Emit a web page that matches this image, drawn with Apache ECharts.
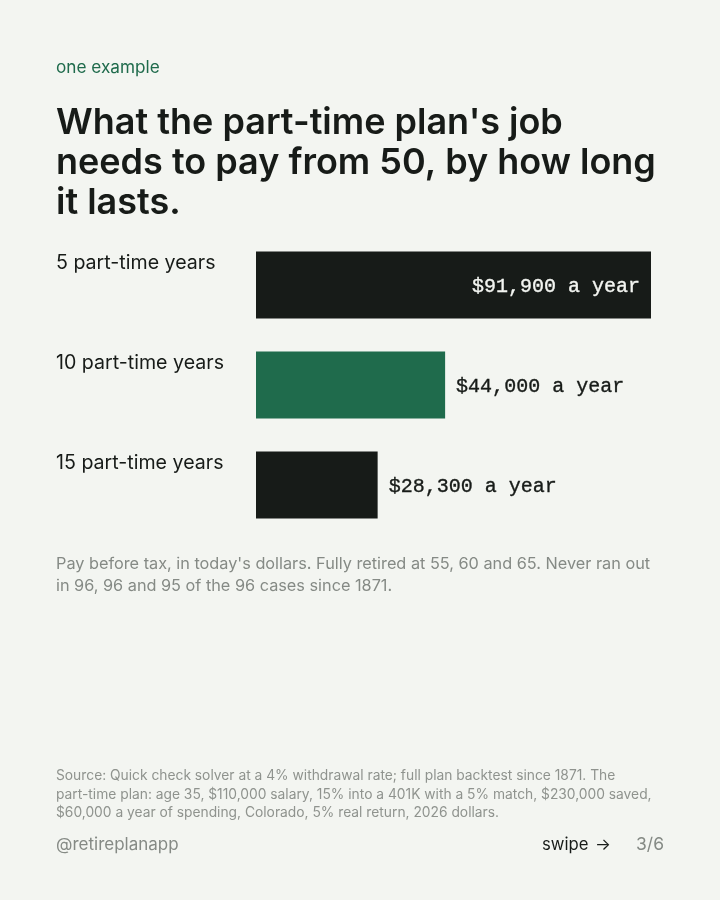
<!DOCTYPE html>
<html><head><meta charset="utf-8">
<style>html,body{margin:0;padding:0;background:#f3f5f1}#c{width:720px;height:900px}</style>
<script src="https://cdn.jsdelivr.net/npm/echarts@6/dist/echarts.min.js"></script></head>
<body><div id="c"></div>
<script>
const categories = ['5 part-time years','10 part-time years','15 part-time years'];
const values = [91900,44000,28300];
const valueLabels = ['$91,900 a year','$44,000 a year','$28,300 a year'];
const barColors = ['#171b18','#1f6b4c','#171b18'];
const headline = ["What the part-time plan's job","needs to pay from 50, by how long","it lasts."];
const note = ["Pay before tax, in today's dollars. Fully retired at 55, 60 and 65. Never ran out","in 96, 96 and 95 of the 96 cases since 1871."];
const source = ["Source: Quick check solver at a 4% withdrawal rate; full plan backtest since 1871. The","part-time plan: age 35, $110,000 salary, 15% into a 401K with a 5% match, $230,000 saved,","$60,000 a year of spending, Colorado, 5% real return, 2026 dollars."];
const F='Inter, "Noto Sans", sans-serif';
const txt=(x,y,t,size,color,weight,align)=>({type:'text',x,y,style:{text:t,font:`${weight||400} ${size}px ${F}`,fill:color,textAlign:align||'left',textVerticalAlign:'middle'}});
const g=[txt(56,68,'one example',17.2,'#1f6b4c')];
headline.forEach((t,i)=>g.push(txt(56,123+i*40,t,36,'#171b18',600)));
note.forEach((t,i)=>g.push(txt(56,564+i*22,t,16.27,'#858a85')));
source.forEach((t,i)=>g.push(txt(56,776+i*18.5,t,13.8,'#8f938e')));
g.push(txt(56,845,'@retireplanapp',17,'#858a85'));
g.push(txt(542,845,'swipe',16.7,'#171b18'));
g.push(txt(595,845,'→',16.7,'#171b18'));
g.push(txt(664,845,'3/6',17.5,'#858a85',400,'right'));
const chart=echarts.init(document.getElementById('c'),null,{renderer:'canvas'});
chart.setOption({
 backgroundColor:'#f3f5f1',animation:false,
 grid:{left:256,top:235,width:395,height:300,containLabel:false},
 xAxis:{type:'value',min:0,max:91900,show:false},
 yAxis:{type:'category',inverse:true,data:categories,axisLine:{show:false},axisTick:{show:false},
  axisLabel:{align:'left',margin:200,color:'#171b18',fontFamily:F,fontSize:19.6,verticalAlign:'bottom',lineHeight:44}},
 series:[{type:'bar',barWidth:67,
  data:values.map((v,i)=>({value:v,itemStyle:{color:barColors[i]},
   label:{show:true,formatter:valueLabels[i],position:i===0?'insideRight':'right',distance:11,offset:[0,2],
    color:i===0?'#f3f5f1':'#171b18',textBorderColor:i===0?'#f3f5f1':'#171b18',textBorderWidth:0.35,
    fontFamily:'"Liberation Mono", monospace',fontSize:20}}))}],
 graphic:g
});
</script></body></html>
